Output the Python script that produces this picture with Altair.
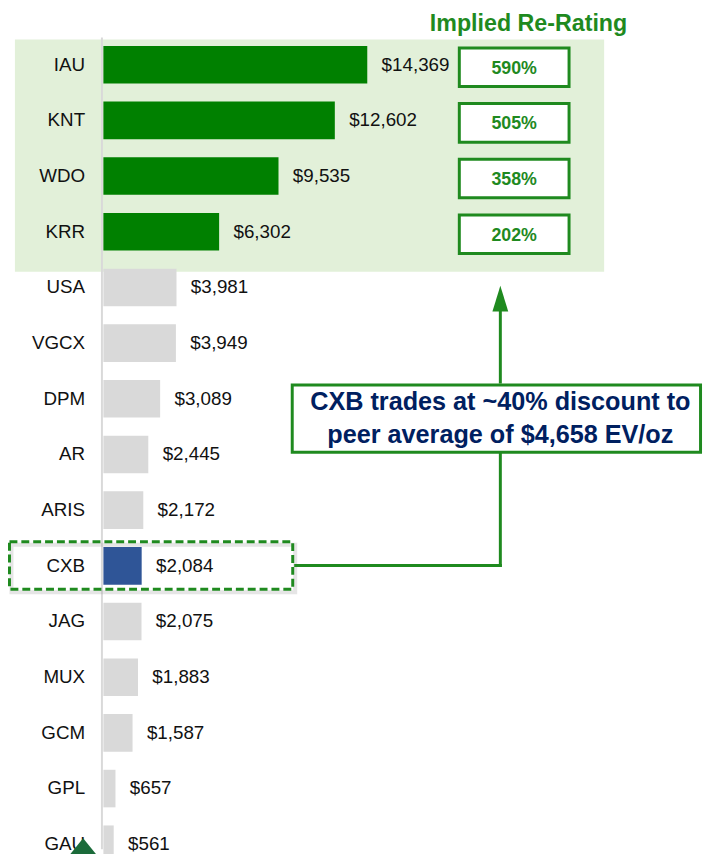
import altair as alt
import pandas as pd

# ---------------- data ----------------
companies = ["IAU", "KNT", "WDO", "KRR", "USA", "VGCX", "DPM", "AR", "ARIS",
             "CXB", "JAG", "MUX", "GCM", "GPL", "GAU"]
ev_per_oz = [14369, 12602, 9535, 6302, 3981, 3949, 3089, 2445, 2172,
             2084, 2075, 1883, 1587, 657, 561]
groups = ["Re-rated"] * 4 + ["Peer"] * 5 + ["CXB"] + ["Peer"] * 5

rerate_companies = ["IAU", "KNT", "WDO", "KRR"]
rerate_pct = [590, 505, 358, 202]

title_text = "Implied Re-Rating"
callout_line1 = "CXB trades at ~40% discount to"
callout_line2 = "peer average of $4,658 EV/oz"

# ---------------- tables ----------------
df = pd.DataFrame({"company": companies, "ev": ev_per_oz, "group": groups})
df["label"] = df["ev"].map(lambda v: f"${v:,}")
rr = pd.DataFrame({"company": rerate_companies, "pct": rerate_pct})
rr["label"] = rr["pct"].map(lambda v: f"{v}%")
one = pd.DataFrame({"a": [0]})

FONT = "Liberation Sans"
GREEN = "#008000"
LGREEN = "#1f8a1f"
NAVY = "#002060"
W, H = 704, 846

x_scale = alt.Scale(domain=[0, 14369], range=[96.5, 363.4], nice=False, zero=True)
y_scale = alt.Scale(domain=companies, range=[33.5, 860.0], paddingInner=0.325, paddingOuter=0)
Y = alt.Y("company:N", scale=y_scale, axis=None)

bg = alt.Chart(one).mark_rect(fill="#e2f0d9").encode(
    x=alt.value(7), x2=alt.value(603), y=alt.value(27), y2=alt.value(262))

axis_line = alt.Chart(one).mark_rule(color="#d9d9d9", strokeWidth=2).encode(
    x=alt.value(95), y=alt.value(25), y2=alt.value(H))

bars = alt.Chart(df).mark_bar().encode(
    x=alt.X("ev:Q", scale=x_scale, axis=None),
    x2=alt.datum(0),
    y=Y,
    color=alt.Color("group:N",
                    scale=alt.Scale(domain=["Re-rated", "Peer", "CXB"],
                                    range=[GREEN, "#d9d9d9", "#2f5597"]),
                    legend=None),
)

cat_labels = alt.Chart(df).mark_text(
    align="right", baseline="middle", font=FONT, fontSize=19, color="#111111"
).encode(x=alt.value(78), y=Y, text="company:N")

val_labels = alt.Chart(df).mark_text(
    align="left", baseline="middle", font=FONT, fontSize=19, color="#111111", dx=14.5
).encode(x=alt.X("ev:Q", scale=x_scale, axis=None), y=Y, text="label:N")

boxes = alt.Chart(rr).mark_bar(
    height=39, yOffset=2.5, fill="white", stroke=LGREEN, strokeWidth=3
).encode(x=alt.value(456.5), x2=alt.value(567.5), y=Y)

pct_text = alt.Chart(rr).mark_text(
    align="center", baseline="middle", font=FONT, fontSize=18, fontWeight="bold",
    color=LGREEN, dy=4
).encode(x=alt.value(512), y=Y, text="label:N")

title = alt.Chart(one).mark_text(
    text=title_text, align="center", baseline="middle", font=FONT, fontSize=23.5,
    fontWeight="bold", color=LGREEN
).encode(x=alt.value(526.5), y=alt.value(11))

shadow = alt.Chart(one).mark_rect(
    fillOpacity=0, stroke="#999999", strokeOpacity=0.25, strokeWidth=4
).encode(x=alt.value(3.5), x2=alt.value(290.5), y=alt.value(538), y2=alt.value(586))

dashed = alt.Chart(one).mark_rect(
    fillOpacity=0, stroke=LGREEN, strokeWidth=3, strokeDash=[8, 4]
).encode(x=alt.value(1.5), x2=alt.value(288), y=alt.value(535), y2=alt.value(583))

conn_h = alt.Chart(one).mark_rule(color=LGREEN, strokeWidth=3).encode(
    x=alt.value(289.5), x2=alt.value(499.5), y=alt.value(559))
conn_v = alt.Chart(one).mark_rule(color=LGREEN, strokeWidth=3).encode(
    x=alt.value(498), y=alt.value(560.5), y2=alt.value(444))
arrow_shaft = alt.Chart(one).mark_rule(color=LGREEN, strokeWidth=3).encode(
    x=alt.value(498), y=alt.value(375), y2=alt.value(298))
arrow_head = alt.Chart(one).mark_point(
    shape="M0,-1L-0.615,1L0.615,1Z", size=676, filled=True, fill=LGREEN,
    strokeWidth=0, opacity=1
).encode(x=alt.value(498), y=alt.value(289))

callout_box = alt.Chart(one).mark_rect(
    fill="white", stroke=LGREEN, strokeWidth=3
).encode(x=alt.value(287.5), x2=alt.value(700.5), y=alt.value(376.5), y2=alt.value(444.5))

callout_t1 = alt.Chart(one).mark_text(
    text=callout_line1, align="center", baseline="middle", font=FONT, fontSize=25.5,
    fontWeight="bold", color=NAVY
).encode(x=alt.value(498), y=alt.value(394))
callout_t2 = alt.Chart(one).mark_text(
    text=callout_line2, align="center", baseline="middle", font=FONT, fontSize=25.5,
    fontWeight="bold", color=NAVY
).encode(x=alt.value(498), y=alt.value(427))

corner_tri = alt.Chart(one).mark_point(
    shape="M0,-1L-1.63,1L1.63,1Z", size=900, filled=True, fill="#1b6b3a",
    strokeWidth=0, opacity=1
).encode(x=alt.value(76), y=alt.value(850))

chart = alt.layer(
    bg, axis_line, bars, cat_labels, val_labels, boxes, pct_text, title,
    shadow, dashed, conn_h, conn_v, arrow_shaft, arrow_head,
    callout_box, callout_t1, callout_t2, corner_tri
).properties(
    width=W, height=H, padding=0, autosize=alt.AutoSizeParams(type="none")
).configure_view(stroke=None)

chart.save("out.html", embed_options={"renderer": "svg", "actions": False})
